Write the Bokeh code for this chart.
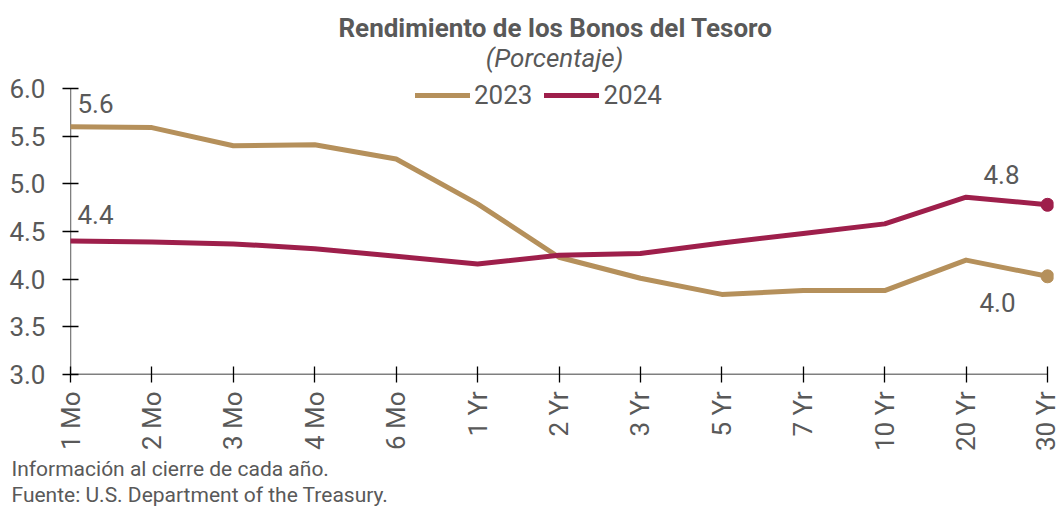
import math
from bokeh.plotting import figure
from bokeh.models import (Range1d, FixedTicker, Legend, LegendItem, Label, Title)
from bokeh.embed import file_html
from bokeh.resources import INLINE

# ---- data ----
categories = ["1 Mo", "2 Mo", "3 Mo", "4 Mo", "6 Mo", "1 Yr", "2 Yr",
              "3 Yr", "5 Yr", "7 Yr", "10 Yr", "20 Yr", "30 Yr"]
yield_2023 = [5.60, 5.59, 5.40, 5.41, 5.26, 4.79, 4.23, 4.01, 3.84, 3.88, 3.88, 4.20, 4.03]
yield_2024 = [4.40, 4.39, 4.37, 4.32, 4.24, 4.16, 4.25, 4.27, 4.38, 4.48, 4.58, 4.86, 4.78]
y_ticks = [3.0, 3.5, 4.0, 4.5, 5.0, 5.5, 6.0]

title_text = "Rendimiento de los Bonos del Tesoro"
subtitle_text = "(Porcentaje)"
note_lines = ["Información al cierre de cada año.",
              "Fuente: U.S. Department of the Treasury."]

C23 = "#B5905B"
C24 = "#9E1F4B"
TXT = "#595959"
FONT = "Roboto"
FS = "26px"

xs = list(range(len(categories)))

# layout geometry (pixels)
W, H = 1060, 506
LEFT, RIGHT_PAD, BOTTOM = 70, 7, 132
frame_w = W - LEFT - RIGHT_PAD
frame_h = H - BOTTOM
px_per_x = 977 / 12.0
px_per_y = 286 / 3.0

p = figure(width=W, height=H, output_backend="svg", toolbar_location=None,
           title=None,
           x_range=Range1d(0, frame_w / px_per_x),
           y_range=Range1d(y_ticks[0], y_ticks[0] + frame_h / px_per_y),
           min_border_left=LEFT, min_border_right=RIGHT_PAD, min_border_top=0,
           min_border_bottom=BOTTOM)
p.outline_line_color = None
p.grid.grid_line_color = None
p.background_fill_color = None
p.border_fill_color = "white"

# axes
for ax in (p.xaxis[0], p.yaxis[0]):
    ax.axis_line_color = None
    ax.major_tick_line_color = "black"
    ax.major_tick_line_width = 1.3
    ax.major_tick_in = 8
    ax.major_tick_out = 8
    ax.minor_tick_line_color = None
    ax.major_label_text_font = FONT
    ax.major_label_text_font_size = FS
    ax.major_label_text_color = TXT

p.xaxis.ticker = FixedTicker(ticks=xs)
p.xaxis.major_label_overrides = {i: c for i, c in enumerate(categories)}
p.xaxis.major_label_orientation = math.pi / 2
p.xaxis.major_label_standoff = 9

p.yaxis.ticker = FixedTicker(ticks=y_ticks)
p.yaxis.major_label_overrides = {t: f"{t:.1f}" for t in y_ticks}
p.yaxis.major_label_standoff = 17

# axis lines limited to the data extent
p.segment(x0=[xs[0], xs[0]], y0=[y_ticks[0], y_ticks[0]],
          x1=[xs[0], xs[-1]], y1=[y_ticks[-1], y_ticks[0]],
          line_color="black", line_width=1.3)

r23 = p.line(xs, yield_2023, line_color=C23, line_width=5, line_join="round", line_cap="round")
r24 = p.line(xs, yield_2024, line_color=C24, line_width=5, line_join="round", line_cap="round")
p.scatter([xs[-1]], [yield_2023[-1]], size=13, color=C23)
p.scatter([xs[-1]], [yield_2024[-1]], size=13, color=C24)

legend = Legend(items=[LegendItem(label="2023", renderers=[r23]),
                       LegendItem(label="2024", renderers=[r24])],
                orientation="horizontal", location=(345, 264),
                glyph_width=55, glyph_height=26, label_standoff=4, spacing=12,
                padding=0, margin=0, border_line_color=None,
                background_fill_alpha=0, label_text_font=FONT,
                label_text_font_size=FS, label_text_color=TXT,
                label_height=26)
p.add_layout(legend)

# data labels
lab_style = dict(text_font=FONT, text_font_size=FS, text_color=TXT,
                 text_baseline="alphabetic")
p.add_layout(Label(x=xs[0], y=yield_2023[0], text=f"{yield_2023[0]:.1f}",
                   x_offset=7, y_offset=23, text_align="left", **lab_style))
p.add_layout(Label(x=xs[0], y=yield_2024[0], text=f"{yield_2024[0]:.1f}",
                   x_offset=7, y_offset=27, text_align="left", **lab_style))
p.add_layout(Label(x=xs[-1], y=yield_2024[-1], text=f"{yield_2024[-1]:.1f}",
                   x_offset=-46, y_offset=30, text_align="center", **lab_style))
p.add_layout(Label(x=xs[-1], y=yield_2023[-1], text=f"{yield_2023[-1]:.1f}",
                   x_offset=-50, y_offset=-26, text_align="center", **lab_style))

# title / subtitle (screen units, relative to frame bottom-left, inside frame)
p.add_layout(Label(x=485, y=frame_h - 27, x_units="screen", y_units="screen",
                   text=title_text, text_align="center", text_baseline="alphabetic",
                   text_font=FONT, text_font_size=FS, text_font_style="bold",
                   text_color=TXT))
p.add_layout(Label(x=484, y=frame_h - 57, x_units="screen", y_units="screen",
                   text=subtitle_text, text_align="center", text_baseline="alphabetic",
                   text_font=FONT, text_font_size=FS, text_font_style="italic",
                   text_color=TXT))

# footnotes below the axis
for line in note_lines:
    p.add_layout(Title(text=line, align="left", offset=-59, standoff=0,
                       vertical_align="bottom", text_font=FONT,
                       text_font_size="21px", text_font_style="normal",
                       text_color=TXT), "below")

open("out.html", "w").write(file_html(p, INLINE))
